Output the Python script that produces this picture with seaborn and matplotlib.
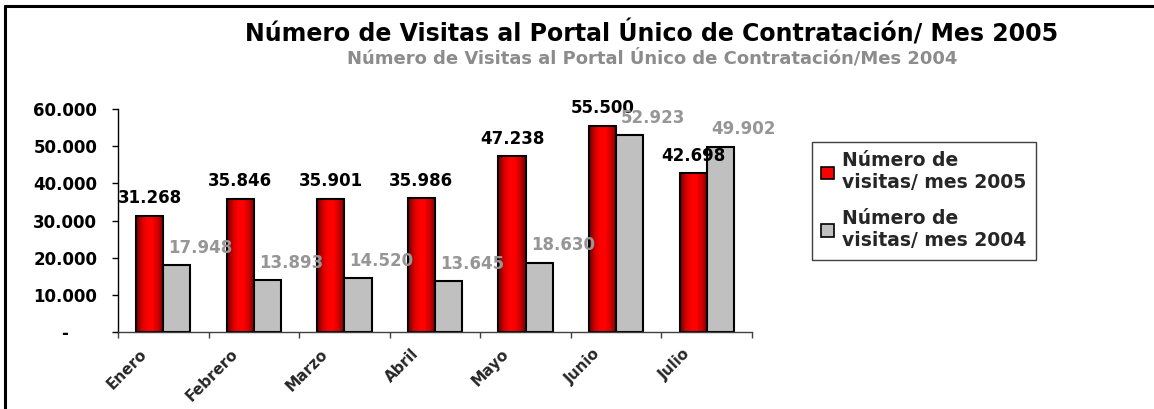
import numpy as np
import pandas as pd
import seaborn as sns
import matplotlib.pyplot as plt
import matplotlib.transforms as mtransforms
from matplotlib.colors import LinearSegmentedColormap
from matplotlib.ticker import FuncFormatter, MultipleLocator, FixedLocator
from matplotlib.patches import Patch
from matplotlib.lines import Line2D

meses = ["Enero", "Febrero", "Marzo", "Abril", "Mayo", "Junio", "Julio"]
visitas_2005 = [31268, 35846, 35901, 35986, 47238, 55500, 42698]
visitas_2004 = [17948, 13893, 14520, 13645, 18630, 52923, 49902]
serie_2005 = "Número de\nvisitas/ mes 2005"
serie_2004 = "Número de\nvisitas/ mes 2004"
titulo = "Número de Visitas al Portal Único de Contratación/ Mes 2005"
subtitulo = "Número de Visitas al Portal Único de Contratación/Mes 2004"


def miles(v):
    return f"{v:,.0f}".replace(",", ".")


data = pd.DataFrame({
    "Mes": meses * 2,
    "Visitas": visitas_2005 + visitas_2004,
    "Serie": [serie_2005] * len(meses) + [serie_2004] * len(meses),
})

sns.set_style("white")
plt.rcParams["font.family"] = ["DejaVu Sans"]
plt.rcParams["font.weight"] = "bold"

W, H = 1154, 409
fig = plt.figure(figsize=(W / 100, H / 100), dpi=100)
ax = fig.add_axes([118 / W, 1 - 332 / H, (752 - 118) / W, (332 - 109) / H])

sns.barplot(data=data, x="Mes", y="Visitas", hue="Serie", order=meses,
            hue_order=[serie_2005, serie_2004], palette=["#FF0000", "#C0C0C0"],
            width=0.6, edgecolor="black", linewidth=1.5, saturation=1,
            legend=False, ax=ax)

# red bars get the excel-like cylinder gradient
rojo = LinearSegmentedColormap.from_list(
    "rojo", ["#6e0000", "#d00000", "#ff0000", "#ff0000", "#cc0000", "#7a0000"])
grad = np.linspace(0, 1, 64).reshape(1, -1)
for bar in ax.containers[0]:
    x0 = bar.get_x()
    im = ax.imshow(grad, extent=[x0, x0 + bar.get_width(), 0, bar.get_height()],
                   aspect="auto", cmap=rojo, interpolation="bilinear",
                   zorder=bar.get_zorder() - 0.1)
    im.set_clip_path(bar)
    bar.set_facecolor("none")

ax.set_xlim(-0.5, 6.5)
ax.set_ylim(0, 60000)

for bar, v in zip(ax.containers[0], visitas_2005):
    ax.annotate(miles(v), (bar.get_x() + bar.get_width() / 2, v), xytext=(0, 6),
                textcoords="offset points", ha="center", va="bottom",
                fontsize=12, fontweight="bold", color="black")
for bar, v in zip(ax.containers[1], visitas_2004):
    ax.annotate(miles(v), (bar.get_x() + bar.get_width() / 2, v), xytext=(17, 6),
                textcoords="offset points", ha="center", va="bottom",
                fontsize=12, fontweight="bold", color="#969696")

ax.yaxis.set_major_locator(MultipleLocator(10000))
ax.yaxis.set_major_formatter(FuncFormatter(
    lambda v, p: "-" + "\u00a0" * 5 if v == 0 else miles(v)))
ax.tick_params(axis="y", left=True, direction="out", length=4, width=1,
               pad=11, labelsize=12, colors="black")

ax.xaxis.set_minor_locator(FixedLocator(np.arange(-0.5, 7, 1)))
ax.tick_params(axis="x", which="major", bottom=True, length=0, pad=6, labelsize=11)
ax.tick_params(axis="x", which="minor", bottom=True, length=4, width=1, color="#404040")
ax.set_xticks(range(len(meses)))
ax.set_xticklabels(meses, rotation=45, ha="right", rotation_mode="anchor")
shift = mtransforms.ScaledTranslation(-0.24, -0.06, fig.dpi_scale_trans)
for lab in ax.get_xticklabels():
    lab.set_transform(lab.get_transform() + shift)
ax.set_xlabel("")
ax.set_ylabel("")

sns.despine(ax=ax)
ax.spines["left"].set_color("black")
ax.spines["bottom"].set_color("#404040")
ax.spines["left"].set_linewidth(1)
ax.spines["bottom"].set_linewidth(1)

ax.legend(handles=[Patch(facecolor="#FF0000", edgecolor="black", linewidth=1.2),
                   Patch(facecolor="#C0C0C0", edgecolor="black", linewidth=1.2)],
          labels=[serie_2005, serie_2004], loc="upper left",
          bbox_to_anchor=(812 / W, 1 - 142 / H), bbox_transform=fig.transFigure,
          borderaxespad=0, frameon=True, fancybox=False, edgecolor="#404040",
          framealpha=1, fontsize=13.5, handlelength=0.65, handleheight=0.65,
          handletextpad=0.45, labelspacing=0.9, borderpad=0.5)
ax.get_legend().get_frame().set_linewidth(1)

fig.text(652 / W, 1 - 33 / H, titulo, ha="center", va="center",
         fontsize=17, fontweight="bold", color="black")
fig.text(652 / W, 1 - 58 / H, subtitulo, ha="center", va="center",
         fontsize=13, fontweight="bold", color="#8c8c8c")

# outer frame (top and left edges only are visible)
fig.add_artist(Line2D([5 / W, 5 / W], [0, 1 - 6 / H], color="black", linewidth=2.2))
fig.add_artist(Line2D([5 / W, 1], [1 - 6 / H, 1 - 6 / H], color="black", linewidth=2.2))

fig.savefig("out.png", dpi=100)
